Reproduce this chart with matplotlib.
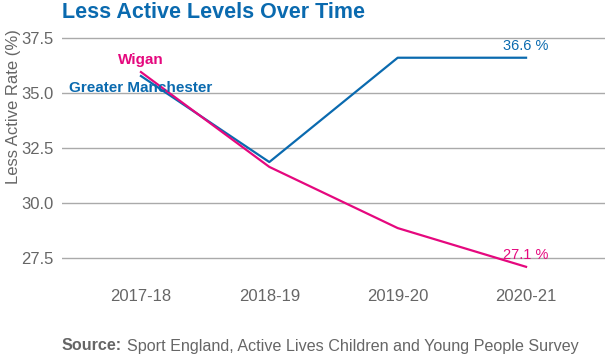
import matplotlib
matplotlib.use("Agg")
import matplotlib.pyplot as plt

plt.rcParams['font.family'] = ['Liberation Sans', 'DejaVu Sans']

years = ["2017-18", "2018-19", "2019-20", "2020-21"]
gm = [35.77, 31.86, 36.6, 36.6]
wigan = [35.95, 31.64, 28.86, 27.1]
yticks = [27.5, 30.0, 32.5, 35.0, 37.5]

blue = "#0a6aaf"
pink = "#e5087e"
grey = "#666666"

fig = plt.figure(figsize=(6.12, 3.63), dpi=100)
ax = fig.add_axes([62/612, 1 - 282/363, (605-62)/612, (282-30)/363])

x = list(range(len(years)))
ax.plot(x, gm, color=blue, lw=1.6, zorder=3)
ax.plot(x, wigan, color=pink, lw=1.6, zorder=3)

ax.set_xlim(-0.615, 3.615)
ax.set_ylim(26.41, 37.86)
ax.set_yticks(yticks)
ax.set_yticklabels([f"{v:.1f}" for v in yticks])
ax.set_xticks(x)
ax.set_xticklabels(years)
ax.tick_params(axis='both', length=0, labelsize=12, labelcolor=grey)
ax.tick_params(axis='y', pad=6)
ax.tick_params(axis='x', pad=5)
ax.grid(axis='y', color='#aaaaaa', lw=1)
ax.set_axisbelow(True)
for s in ax.spines.values():
    s.set_visible(False)

fig.text(14/612, 1 - 107/363, "Less Active Rate (%)", color=grey, fontsize=12,
         rotation=90, ha='center', va='center')

ax.text(x[0], wigan[0] + 0.55, "Wigan", color=pink, fontsize=11,
        fontweight='bold', ha='center', va='center')
ax.text(x[0], gm[0] - 0.55, "Greater Manchester", color=blue, fontsize=11,
        fontweight='bold', ha='center', va='center')
ax.text(x[3], gm[3] + 0.2, f"{gm[3]:.1f} %", color=blue, fontsize=10.5,
        ha='center', va='bottom')
ax.text(x[3], wigan[3] + 0.2, f"{wigan[3]:.1f} %", color=pink, fontsize=10.5,
        ha='center', va='bottom')

fig.text(62/612, 1 - 12/363, "Less Active Levels Over Time", color=blue,
         fontsize=15.5, fontweight='bold', ha='left', va='center')
fig.text(62/612, 1 - 346/363, "Source:", color=grey, fontsize=11.6,
         fontweight='bold', ha='left', va='center')
fig.text(127/612, 1 - 346/363, "Sport England, Active Lives Children and Young People Survey",
         color=grey, fontsize=11.6, ha='left', va='center')

fig.savefig("out.png", dpi=100)
